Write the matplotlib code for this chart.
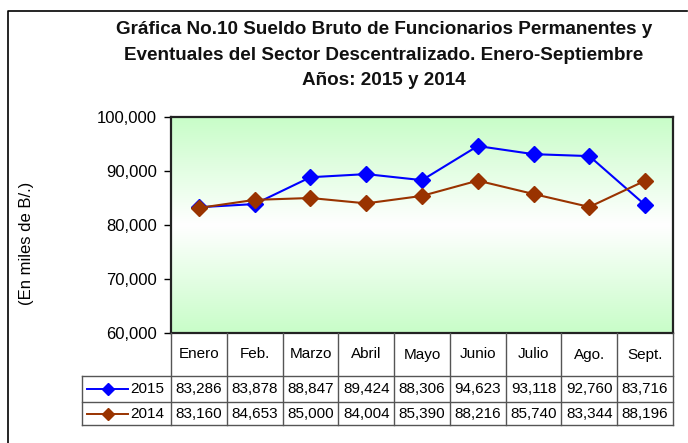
import numpy as np
import matplotlib
matplotlib.use("Agg")
from matplotlib import pyplot as plt
from matplotlib.colors import LinearSegmentedColormap
from matplotlib.lines import Line2D
from matplotlib.ticker import FuncFormatter

plt.rcParams['font.family'] = ['Liberation Sans', 'DejaVu Sans']

months = ["Enero", "Feb.", "Marzo", "Abril", "Mayo", "Junio", "Julio", "Ago.", "Sept."]
years = ["2015", "2014"]
sueldo_2015 = [83286, 83878, 88847, 89424, 88306, 94623, 93118, 92760, 83716]
sueldo_2014 = [83160, 84653, 85000, 84004, 85390, 88216, 85740, 83344, 88196]
y_ticks = [60000, 70000, 80000, 90000, 100000]

W, H = 688, 443
fig = plt.figure(figsize=(W / 100, H / 100), dpi=100)


def fy(py):
    return 1 - py / H


def fx(px):
    return px / W


# outer chart frame: only the left and top edges fall inside the canvas
fig.lines.append(Line2D([fx(8), fx(8), fx(687)], [fy(443), fy(11), fy(11)], transform=fig.transFigure,
                        color="black", linewidth=1.2))

left, right, top, bottom = 171, 673, 117, 333
ax = fig.add_axes([left / W, 1 - bottom / H, (right - left) / W, (bottom - top) / H])

# green-white-green background of the plot area
bg = LinearSegmentedColormap.from_list("bg", ["#c8fdc8", "#ffffff", "#c8fdc8"])
ax.imshow(np.linspace(0, 1, 256).reshape(-1, 1), cmap=bg, aspect="auto",
          extent=[0, 1, 0, 1], transform=ax.transAxes, zorder=0)

x = np.arange(len(months))
series = [(sueldo_2015, "#0000ff"), (sueldo_2014, "#993300")]
for vals, col in series:
    ax.plot(x, vals, color=col, linewidth=1.5, marker="D", markersize=8,
            markeredgecolor=col, markerfacecolor=col, zorder=3)

ax.set_xlim(-0.5, len(months) - 0.5)
ax.set_ylim(y_ticks[0], y_ticks[-1])
ax.set_yticks(y_ticks)
ax.yaxis.set_major_formatter(FuncFormatter(lambda v, p: f"{int(v):,}"))
ax.tick_params(axis="y", labelsize=12, length=5, width=1, pad=5)
ax.set_xticks([])
for s in ax.spines.values():
    s.set_linewidth(1.6)
    s.set_color("#222222")

fig.text(fx(26), fy(243), "(En miles de B/.)", rotation=90, ha="center", va="center", fontsize=12)

title = ("Gráfica No.10 Sueldo Bruto de Funcionarios Permanentes y\n"
         "Eventuales del Sector Descentralizado. Enero-Septiembre\n"
         "Años: 2015 y 2014")
fig.text(fx(384), fy(55), title, ha="center", va="center", fontsize=13.6,
         fontweight="bold", linespacing=1.62, color="#111111")

# data table under the axis
row_edges = [333, 376, 402, 425]
col_w = (right - left) / len(months)
col_edges = [left + i * col_w for i in range(len(months) + 1)]
lc = "#555555"
lw = 1.0


def hline(x0, x1, py):
    fig.lines.append(Line2D([fx(x0), fx(x1)], [fy(py), fy(py)], transform=fig.transFigure,
                            color=lc, linewidth=lw))


def vline(px, y0, y1):
    fig.lines.append(Line2D([fx(px), fx(px)], [fy(y0), fy(y1)], transform=fig.transFigure,
                            color=lc, linewidth=lw))


leg_left = 82
for py in row_edges[1:]:
    hline(leg_left, right, py)
vline(leg_left, row_edges[1], row_edges[3])
for cx in col_edges:
    vline(cx, row_edges[0], row_edges[3])

for i, m in enumerate(months):
    cx = left + (i + 0.5) * col_w
    fig.text(fx(cx), fy((row_edges[0] + row_edges[1]) / 2), m, ha="center", va="center", fontsize=11)
    for r, (vals, col) in enumerate(series):
        cy = (row_edges[r + 1] + row_edges[r + 2]) / 2
        fig.text(fx(cx), fy(cy), f"{vals[i]:,}", ha="center", va="center", fontsize=11)

for r, ((vals, col), yr) in enumerate(zip(series, years)):
    cy = (row_edges[r + 1] + row_edges[r + 2]) / 2
    fig.lines.append(Line2D([fx(87), fx(128)], [fy(cy), fy(cy)], transform=fig.transFigure,
                            color=col, linewidth=1.4))
    fig.lines.append(Line2D([fx(107.5)], [fy(cy)], transform=fig.transFigure, color=col,
                            marker="D", markersize=6.5, linestyle="none"))
    fig.text(fx(147), fy(cy), yr, ha="center", va="center", fontsize=11)

fig.savefig("out.png", dpi=100)
